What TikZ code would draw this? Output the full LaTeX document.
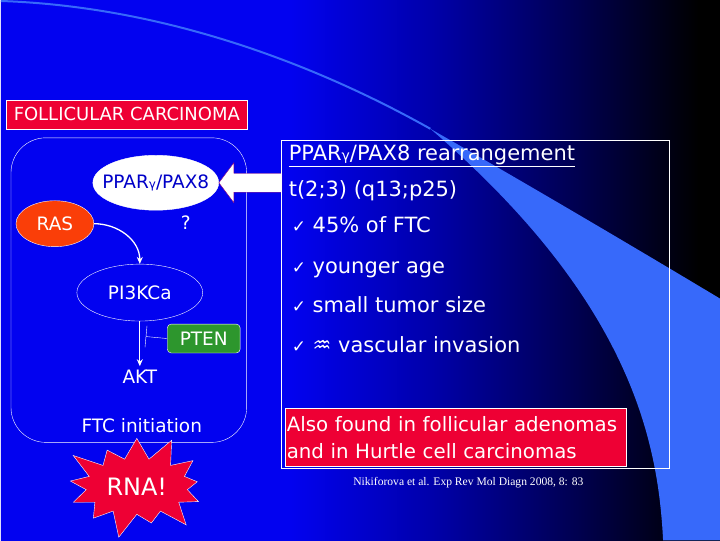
\documentclass[tikz,border=0pt]{standalone}
\usepackage{fontspec}
\setmainfont{DejaVu Sans}
\newfontfamily\citefont{Liberation Serif}
\usetikzlibrary{arrows.meta,shapes.geometric,shapes.symbols,calc}

\definecolor{slidered}{RGB}{238,0,52}
\definecolor{rasorange}{RGB}{250,62,8}
\definecolor{ptengreen}{RGB}{45,150,45}
\definecolor{swoosh}{RGB}{55,105,250}
\definecolor{deepblue}{RGB}{0,0,200}
\definecolor{arrowrim}{RGB}{140,0,120}
\definecolor{bgA}{RGB}{2,2,240}
\definecolor{bgB}{RGB}{0,0,170}
\definecolor{bgC}{RGB}{0,0,80}
\pgfdeclarehorizontalshading{slidebg}{100bp}{color(0bp)=(bgA); color(45bp)=(bgA); color(55bp)=(bgB); color(65bp)=(bgC); color(73.5bp)=(black); color(100bp)=(black)}
\newcommand\ovaltext[1]{\makebox[0pt]{#1}}

\begin{document}
\begin{tikzpicture}[x=1pt,y=-1pt,
  txt/.style={text=white,font=\fontsize{18.5}{22}\selectfont},
  oval/.style={ellipse,draw=white,thin,inner sep=0pt,text=white,font=\fontsize{18.5}{22}\selectfont},
  redbox/.style={draw=white,fill=slidered,text=white,thin,inner sep=0pt},
  flow/.style={white,line width=1.3pt,-{Stealth[length=7pt,width=6pt]}},
  item/.style={text=white,anchor=base west,inner sep=0pt,font=\fontsize{21}{24}\selectfont}]
% background and swoosh
\shade[shading=slidebg] (0,0) rectangle (720,540);
\draw[swoosh,line width=2pt] (0,0) .. controls (150,5) and (300,55) .. (430,128);
\fill[swoosh] (430,128) .. controls (530,185) and (640,250) .. (720,298) -- (720,540) -- (663,540)
  .. controls (658,440) and (630,300) .. (430,128) -- cycle;
\useasboundingbox (0,0) rectangle (720,540);

% left panel
\node[redbox,minimum width=242pt,minimum height=29pt,font=\fontsize{18}{21}\selectfont] (title) at (126,113.5) {FOLLICULAR CARCINOMA};
\draw[white,thin,rounded corners=35pt] (10,137) rectangle (246,442);
\node[oval,fill=white,text=deepblue,minimum width=126pt,minimum height=55pt] (ppar) at (155,182) {\ovaltext{PPAR{\fontsize{12}{12}\selectfont γ}/PAX8}};
\node[oval,fill=rasorange,minimum width=78pt,minimum height=46pt] (ras) at (54,223) {\ovaltext{RAS}};
\node[txt] (q) at (185,222) {?};
\node[oval,minimum width=126pt,minimum height=57pt] (pik) at (139,292) {\ovaltext{PI3KCa}};
\node[draw=white,fill=ptengreen,rounded corners=4pt,minimum width=73pt,minimum height=29pt,txt] (pten) at (203,338) {PTEN};
\node[txt] (akt) at (139,376) {AKT};
\node[txt] (ftc) at (141,425) {FTC initiation};
\node[starburst,draw=white,fill=slidered,text=white,starburst points=13,starburst point height=28pt,
  minimum width=158pt,minimum height=112pt,inner sep=0pt,font=\fontsize{24}{28}\selectfont] (rna) at (136,486) {RNA!};
\coordinate (block) at (145,336);
\draw[flow] (ras.east) to[out=0,in=90] (pik.north);
\draw[flow] (pik.south) -- (akt.north);
\draw[white,thin,-{Bar[width=22pt]}] (pten.west) -- (block);
\draw[arrowrim,fill=white] (ppar.east) -- ++(15,-20) -- ++(0,10.5) -- ++(48,0) -- ++(0,19) -- ++(-48,0) -- ++(0,10.5) -- cycle;

% right panel
\node[draw=white,thin,minimum width=388pt,minimum height=329pt,inner sep=0pt] (panel) at (475,303.5) {};
\node[item] (head) at (288,160) {\underline{PPAR{\fontsize{14}{14}\selectfont γ}/PAX8 rearrangement}};
\node[item] (trans) at (288,196) {t(2;3) (q13;p25)};
\foreach \y/\t [count=\i] in {232/45\% of FTC,273/younger age,312/small tumor size,352/{♒ vascular invasion}}
  \node[item] (chk\i) at (291,\y) {{\fontsize{17}{17}\selectfont ✓} \t};
\node[redbox,anchor=north west,minimum width=342pt,minimum height=58pt,align=left,text width=338pt,inner xsep=2pt,
  font=\fontsize{19.8}{27}\selectfont] (found) at (284,408) {Also found in follicular adenomas\\and in Hurtle cell carcinomas};
\node[text=white,font=\citefont\fontsize{11.6}{13}\selectfont] (cite) at (468,482) {Nikiforova et al. Exp Rev Mol Diagn 2008, 8: 83};
\end{tikzpicture}
\end{document}
